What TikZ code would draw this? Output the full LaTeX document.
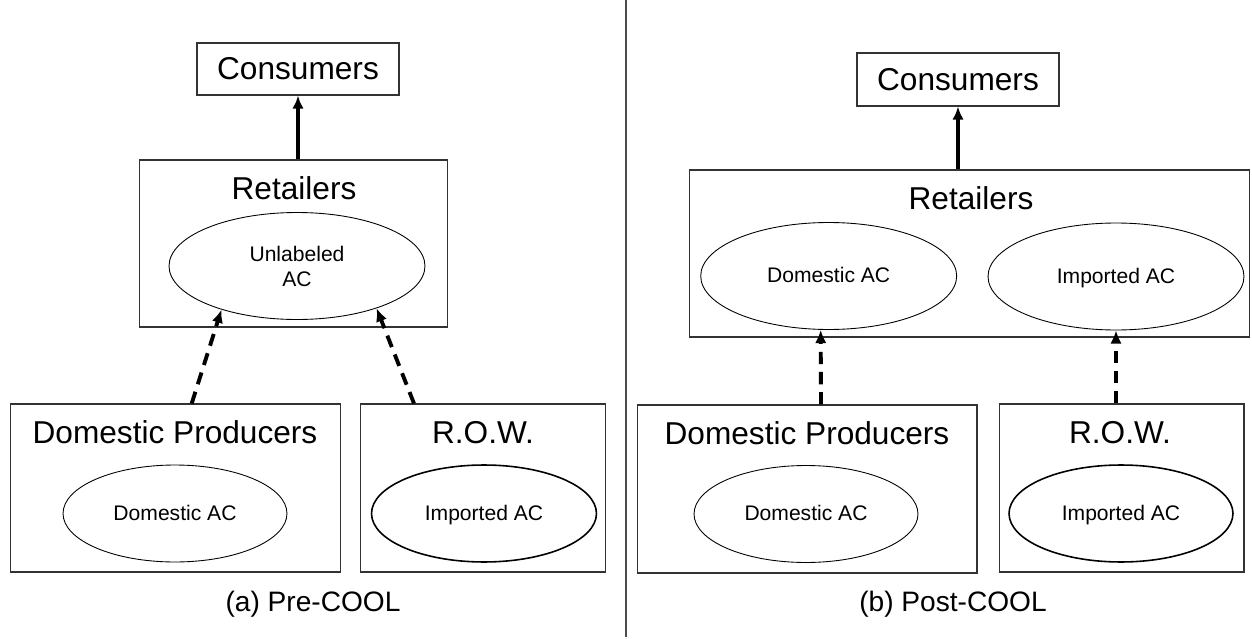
\documentclass[tikz,border=0pt]{standalone}
\usepackage{fontspec}
\setmainfont{Liberation Sans}
\usetikzlibrary{arrows.meta,shapes.geometric,calc}

\begin{document}
\begin{tikzpicture}[x=0.02cm,y=-0.02cm,
    box/.style={draw=black!80,line width=0.6pt,rectangle,inner sep=0pt},
    title/.style={font=\fontsize{18}{21}\selectfont},
    oval/.style={draw,ellipse,line width=0.5pt,inner sep=0pt,align=center,font=\fontsize{12}{14.2}\selectfont},
    one line/.style={text height=1.75ex,text depth=0.35ex},
    bold oval/.style={oval,line width=0.9pt},
    solid flow/.style={-{Latex[length=7.5pt,width=6.5pt]},line width=2.2pt},
    dash flow/.style={solid flow,dash pattern=on 7pt off 4.5pt},
    caption/.style={font=\fontsize{16}{19}\selectfont}]

    \useasboundingbox (0,0) rectangle (1252,639);

    % (a) Pre-COOL
    \node [box,minimum width=4.04cm,minimum height=1.04cm,title] (consA) at (298,69) {Consumers};
    \node [box,minimum width=6.18cm,minimum height=3.34cm] (retA) at (293.5,243.5) {};
    \node [title] (retAt) at (294,188) {Retailers};
    \node [oval,minimum width=5.12cm,minimum height=2.14cm] (unlab) at (297,266) {Unlabeled\\AC};
    \node [box,minimum width=6.6cm,minimum height=3.36cm] (domA) at (175.7,488) {};
    \node [title] (domAt) at (175,432) {Domestic Producers};
    \node [oval,one line,minimum width=4.48cm,minimum height=1.94cm] (domACa) at (175,513.5) {Domestic AC};
    \node [box,minimum width=4.9cm,minimum height=3.36cm] (rowA) at (483.3,488) {};
    \node [title] (rowAt) at (483,433) {R.O.W.};
    \node [bold oval,one line,minimum width=4.5cm,minimum height=1.94cm] (impACa) at (484,513.5) {Imported AC};
    \node [caption] (capA) at (313,604) {(a) Pre-COOL};

    \path[solid flow] (retA.north -| consA.south) edge (consA.south);
    \path[dash flow] ($(domA.north)+(16,0)$) edge (unlab.210);
    \path[dash flow] ($(rowA.north)+(-69.3,0)$) edge (unlab.332);

    % divider
    \coordinate (divtop) at (626,0);
    \coordinate (divbot) at (626,637);
    \draw [black!70,line width=0.6pt] (divtop) -- (divbot);

    % (b) Post-COOL
    \node [box,minimum width=4.04cm,minimum height=1.06cm,title] (consB) at (958,79.5) {Consumers};
    \node [box,minimum width=11.22cm,minimum height=3.34cm] (retB) at (969.5,253.5) {};
    \node [title] (retBt) at (971,198) {Retailers};
    \node [oval,one line,minimum width=5.12cm,minimum height=2.14cm] (domACr) at (828.7,276) {Domestic AC};
    \node [oval,one line,minimum width=5.12cm,minimum height=2.14cm] (impACr) at (1116,276.5) {Imported AC};
    \node [box,minimum width=6.8cm,minimum height=3.36cm] (domB) at (807,489) {};
    \node [title] (domBt) at (807,433) {Domestic Producers};
    \node [oval,one line,minimum width=4.48cm,minimum height=1.94cm] (domACb) at (806,514) {Domestic AC};
    \node [box,minimum width=4.9cm,minimum height=3.36cm] (rowB) at (1121.5,488) {};
    \node [title] (rowBt) at (1120,433) {R.O.W.};
    \node [bold oval,one line,minimum width=4.48cm,minimum height=1.94cm] (impACb) at (1121,513.5) {Imported AC};
    \node [caption] (capB) at (953,604) {(b) Post-COOL};

    \path[solid flow] (retB.north -| consB.south) edge (consB.south);
    \path[dash flow] ($(domB.north)+(14,0)$) edge ($(domACr.south)+(-8,0)$);
    \path[dash flow] (rowB.north -| impACr.south) edge (impACr.south);

\end{tikzpicture}
\end{document}
